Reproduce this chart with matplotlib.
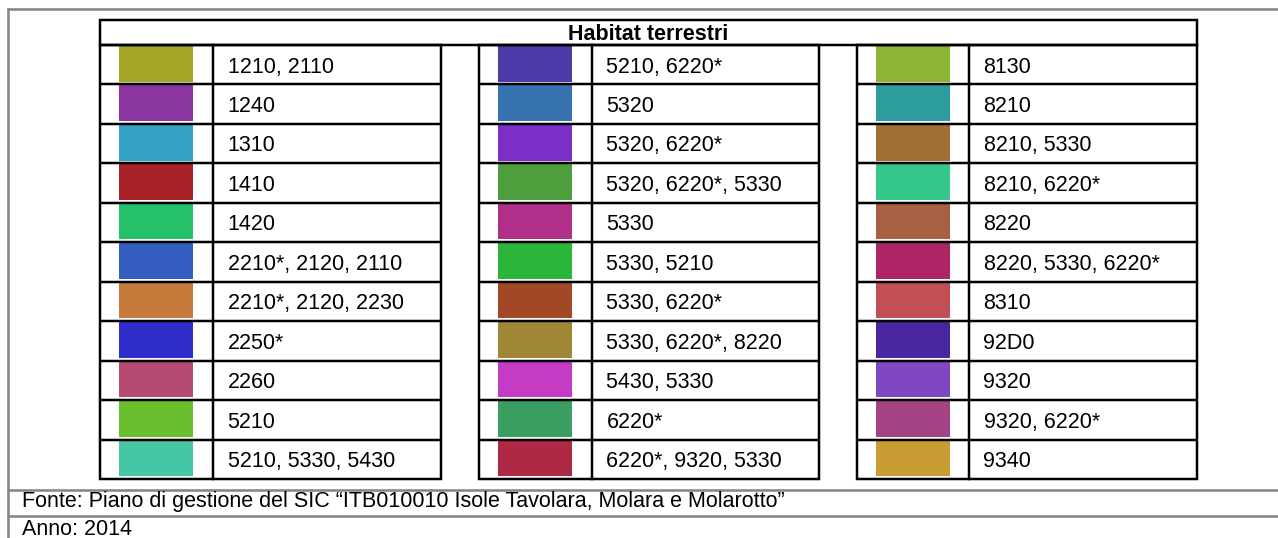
import matplotlib
matplotlib.use('Agg')
import matplotlib.pyplot as plt
from matplotlib.patches import Rectangle

# legend content
title = 'Habitat terrestri'
source = 'Fonte: Piano di gestione del SIC “ITB010010 Isole Tavolara, Molara e Molarotto”'
year = 'Anno: 2014'

codes_1 = ['1210, 2110', '1240', '1310', '1410', '1420', '2210*, 2120, 2110',
           '2210*, 2120, 2230', '2250*', '2260', '5210', '5210, 5330, 5430']
colors_1 = ['#A5A527', '#8A35A0', '#35A2C5', '#A82227', '#27C06A', '#345EBF',
            '#C67A3B', '#2F2ECB', '#B54A72', '#69BF2D', '#45C6A5']

codes_2 = ['5210, 6220*', '5320', '5320, 6220*', '5320, 6220*, 5330', '5330',
           '5330, 5210', '5330, 6220*', '5330, 6220*, 8220', '5430, 5330',
           '6220*', '6220*, 9320, 5330']
colors_2 = ['#4B3BA6', '#3673B0', '#7B2FC7', '#4E9E3D', '#B12F89', '#2BB53A',
            '#A24827', '#A18735', '#C63BC4', '#399E60', '#AF2945']

codes_3 = ['8130', '8210', '8210, 5330', '8210, 6220*', '8220',
           '8220, 5330, 6220*', '8310', '92D0', '9320', '9320, 6220*', '9340']
colors_3 = ['#8CB535', '#2D9C9C', '#A07035', '#35C68C', '#A86042', '#AE2566',
            '#C24F55', '#4A25A0', '#7F47C2', '#A44384', '#C89D34']

plt.rcParams['font.family'] = ['Liberation Sans', 'DejaVu Sans']

W, H = 1278, 538
fig = plt.figure(figsize=(W / 100, H / 100), dpi=100)
ax = fig.add_axes([0, 0, 1, 1])
ax.set_xlim(0, W)
ax.set_ylim(H, 0)
ax.axis('off')

px = 72 / 100  # points per pixel
lw = 2.5 * px
glw = 2.6 * px
gray = '#878787'
fs = 15.5
ink = '#000000'

# outer grey frame and footer rules
ax.plot([7, W], [9, 9], color=gray, lw=glw, solid_capstyle='butt')
ax.plot([7.5, 7.5], [8, H], color=gray, lw=glw, solid_capstyle='butt')
ax.plot([7, W], [489.5, 489.5], color=gray, lw=glw, solid_capstyle='butt')
ax.plot([7, W], [516, 516], color=gray, lw=glw, solid_capstyle='butt')

ax.text(22, 507.3, source, fontsize=fs, va='baseline', ha='left', color=ink)
ax.text(22, 535.3, year, fontsize=fs, va='baseline', ha='left', color=ink)

# table geometry
left, right = 100, 1197
top, head_bottom, bottom = 20, 45, 479
cols = [(100, 213, 441), (479, 592, 819), (857, 969, 1197)]
n = len(codes_1)
rh = (bottom - head_bottom) / n

ax.add_patch(Rectangle((left, top), right - left, head_bottom - top,
                       fill=False, ec='black', lw=lw, zorder=3))
ax.text((left + right) / 2, 40.5, title, ha='center', va='baseline',
        fontsize=fs, fontweight='bold', color=ink)

for (x0, xs, x1), codes, colors in zip(cols, [codes_1, codes_2, codes_3],
                                        [colors_1, colors_2, colors_3]):
    for i, (code, c) in enumerate(zip(codes, colors)):
        y0 = head_bottom + i * rh
        ax.add_patch(Rectangle((x0 + 19, y0), 74, rh - 2.8, fc=c, ec='none', zorder=1))
        ax.text(xs + 14.5, y0 + rh / 2 + 7.8, code, fontsize=fs, va='baseline',
                ha='left', color=ink, zorder=4)
    ax.add_patch(Rectangle((x0, head_bottom), x1 - x0, bottom - head_bottom,
                           fill=False, ec='black', lw=lw, zorder=3))
    ax.plot([xs, xs], [head_bottom, bottom], color='black', lw=lw, zorder=3)
    for i in range(1, n):
        y = head_bottom + i * rh
        ax.plot([x0, x1], [y, y], color='black', lw=lw, zorder=3,
                solid_capstyle='butt')

fig.savefig('out.png', dpi=100)
